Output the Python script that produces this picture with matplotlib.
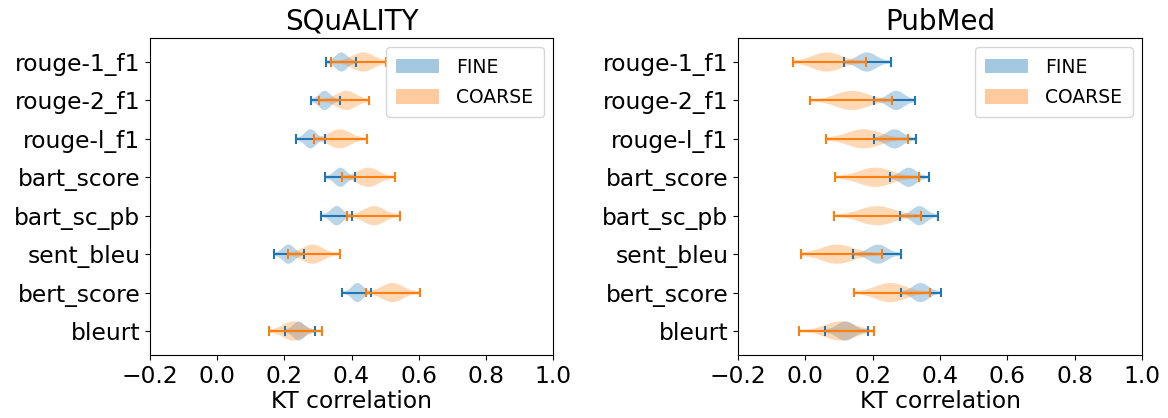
import matplotlib
matplotlib.use("Agg")
import matplotlib.pyplot as plt
import matplotlib.patches as mpatches
import numpy as np

# metric names, top to bottom
metrics = ["rouge-1_f1", "rouge-2_f1", "rouge-l_f1", "bart_score",
           "bart_sc_pb", "sent_bleu", "bert_score", "bleurt"]

# per violin: [min, lower quartile, peak, upper quartile, max] of KT correlation
squality_fine = [
    [0.323, 0.356, 0.370, 0.383, 0.412],
    [0.279, 0.308, 0.320, 0.334, 0.366],
    [0.236, 0.265, 0.278, 0.291, 0.320],
    [0.321, 0.353, 0.367, 0.380, 0.410],
    [0.309, 0.342, 0.356, 0.369, 0.400],
    [0.169, 0.199, 0.212, 0.226, 0.258],
    [0.373, 0.405, 0.418, 0.430, 0.458],
    [0.203, 0.231, 0.243, 0.257, 0.290],
]
squality_coarse = [
    [0.338, 0.406, 0.435, 0.455, 0.503],
    [0.302, 0.360, 0.385, 0.405, 0.453],
    [0.288, 0.342, 0.365, 0.389, 0.445],
    [0.371, 0.426, 0.450, 0.474, 0.530],
    [0.386, 0.443, 0.467, 0.490, 0.543],
    [0.212, 0.262, 0.284, 0.309, 0.366],
    [0.442, 0.498, 0.522, 0.546, 0.603],
    [0.154, 0.205, 0.227, 0.252, 0.311],
]
pubmed_fine = [
    [0.114, 0.162, 0.183, 0.205, 0.255],
    [0.205, 0.250, 0.270, 0.287, 0.325],
    [0.203, 0.246, 0.265, 0.284, 0.329],
    [0.250, 0.290, 0.307, 0.325, 0.367],
    [0.281, 0.322, 0.339, 0.355, 0.393],
    [0.142, 0.194, 0.216, 0.236, 0.283],
    [0.284, 0.325, 0.342, 0.361, 0.404],
    [0.057, 0.100, 0.119, 0.139, 0.186],
]
pubmed_coarse = [
    [-0.038, 0.033, 0.064, 0.099, 0.181],
    [0.014, 0.102, 0.139, 0.175, 0.258],
    [0.061, 0.139, 0.173, 0.213, 0.306],
    [0.089, 0.172, 0.208, 0.247, 0.338],
    [0.086, 0.175, 0.213, 0.252, 0.344],
    [-0.012, 0.062, 0.094, 0.135, 0.229],
    [0.146, 0.220, 0.252, 0.288, 0.371],
    [-0.020, 0.067, 0.104, 0.134, 0.203],
]
# how many samples each of the five summary values stands for
weights = [1, 3, 4, 3, 1]

panels = [
    ("SQuALITY", squality_fine, squality_coarse),
    ("PubMed", pubmed_fine, pubmed_coarse),
]

BLUE = "#1f77b4"
ORANGE = "#ff7f0e"


def draw_violins(ax, summaries, color):
    samples = [np.repeat(s, weights) for s in summaries]
    pos = np.arange(1, len(summaries) + 1)
    parts = ax.violinplot(samples, positions=pos, orientation="horizontal")
    for body in parts["bodies"]:
        body.set_facecolor(color)
        body.set_edgecolor("none")
        body.set_alpha(0.3)
    for key in ("cbars", "cmins", "cmaxes"):
        parts[key].set_color(color)
        parts[key].set_linewidth(1.5)


fig = plt.figure(figsize=(11.68, 4.18), dpi=100)
ax_rects = [
    [150 / 1168, 63 / 418, 403 / 1168, 317 / 418],
    [738 / 1168, 63 / 418, 404 / 1168, 317 / 418],
]

for rect, (title, fine, coarse) in zip(ax_rects, panels):
    ax = fig.add_axes(rect)
    draw_violins(ax, fine, BLUE)
    draw_violins(ax, coarse, ORANGE)
    ax.set_yticks(np.arange(1, len(metrics) + 1))
    ax.set_yticklabels(metrics)
    ax.invert_yaxis()
    ax.set_xlim(-0.2, 1.0)
    ax.set_xticks(np.arange(-0.2, 1.01, 0.2))
    ax.tick_params(labelsize=16.8)
    ax.set_xlabel("KT correlation", fontsize=16.8, labelpad=2)
    ax.set_title(title, fontsize=20, pad=6)
    handles = [mpatches.Patch(color=BLUE, alpha=0.4, linewidth=0),
               mpatches.Patch(color=ORANGE, alpha=0.4, linewidth=0)]
    ax.legend(handles, ["FINE", "COARSE"], loc="upper right", fontsize=13.5,
              handlelength=2.3, handleheight=0.8, labelspacing=0.6,
              borderpad=0.55, handletextpad=0.9)

fig.savefig("out.png", dpi=100)
plt.close(fig)
